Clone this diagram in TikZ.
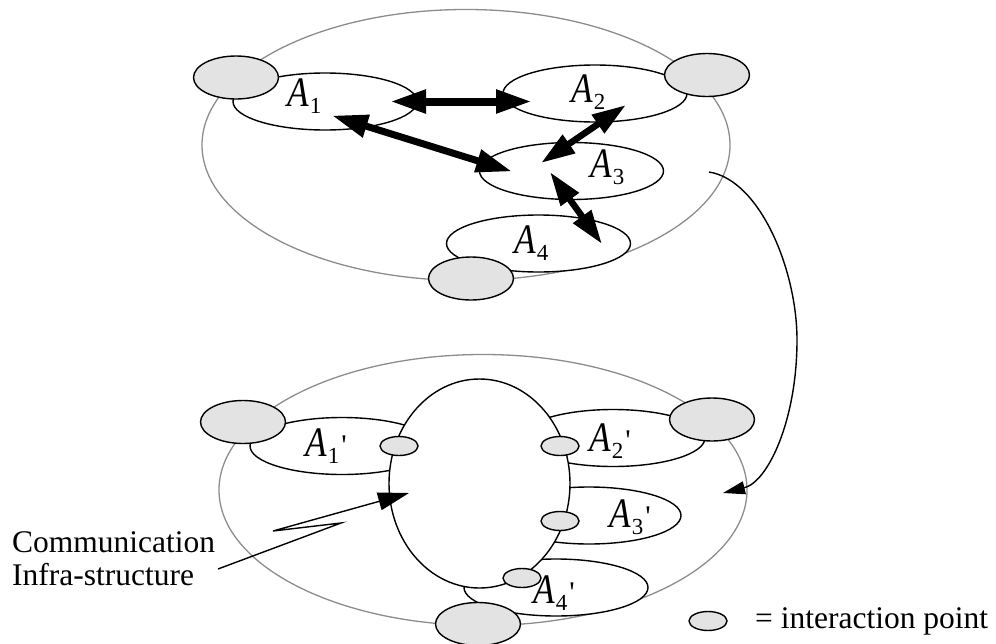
\documentclass[tikz,border=0pt]{standalone}
\usepackage{fontspec}
\usepackage{graphicx}
\setmainfont{Liberation Serif}
\newfontfamily\primefont{Liberation Serif}
\usetikzlibrary{shapes.geometric,arrows.meta}
\definecolor{ptfill}{HTML}{E3E3E3}
\definecolor{outer}{HTML}{8C8C8C}
\newcommand{\agentlabel}[2]{\scalebox{0.84}[1]{\fontsize{42}{42}\selectfont\itshape A}\kern1pt{\fontsize{23}{23}\selectfont\raisebox{-7pt}{#1}}\kern2pt{\primefont\fontsize{30}{30}\selectfont\raisebox{1pt}{#2}}}
\tikzset{
  x=1pt,y=-1pt,
  outerell/.style={ellipse,draw=outer,line width=1.3pt,minimum width=528pt,minimum height=271pt,inner sep=0pt},
  agentell/.style={ellipse,draw=black,fill=white,line width=1.4pt,minimum width=184pt,minimum height=57pt,inner sep=0pt},
  bigpt/.style={ellipse,draw=black,fill=ptfill,line width=1.4pt,minimum width=85pt,minimum height=43pt,inner sep=0pt},
  smallpt/.style={ellipse,draw=black,fill=ptfill,line width=1.4pt,minimum width=38pt,minimum height=19pt,inner sep=0pt},
  commell/.style={ellipse,draw=black,fill=white,line width=1.4pt,minimum width=181pt,minimum height=209pt,inner sep=0pt},
  lab/.style={anchor=base west,inner sep=0pt},
  txt/.style={anchor=base west,inner sep=0pt,font=\fontsize{31.5}{31.5}\selectfont},
  heavy/.style={line width=8pt,{Triangle[length=36pt,width=22pt]}-{Triangle[length=36pt,width=22pt]}},
  medium/.style={line width=6.5pt,{Triangle[length=34pt,width=21pt]}-{Triangle[length=34pt,width=21pt]}},
  thinarrow/.style={line width=1.4pt,-{Triangle[length=31pt,width=18pt]}},
  smallhead/.style={line width=1.4pt,-{Triangle[length=22pt,width=13pt]}}
}
\begin{document}
\begin{tikzpicture}
\useasboundingbox (0,0) rectangle (996,643);
% upper
\node[outerell] (outerT) at (466,145) {};
\node[agentell] (a1) at (325,101.5) {};
\node[agentell] (a2) at (595,93.5) {};
\node[agentell] (a3) at (571.5,171) {};
\node[agentell] (a4) at (538.5,243.5) {};
\node[bigpt] (p1) at (236,77.5) {};
\node[bigpt] (p2) at (707,75) {};
\node[bigpt] (p4) at (471,278.5) {};
\node[lab] (l1) at (287,106) {\agentlabel{1}{}};
\node[lab] (l2) at (571,102) {\agentlabel{2}{}};
\node[lab] (l3) at (590,177) {\agentlabel{3}{}};
\node[lab] (l4) at (514,253) {\agentlabel{4}{}};
\coordinate (t12a) at (390,101.5);
\coordinate (t12b) at (532,101.5);
\coordinate (t13a) at (332,115.5);
\coordinate (t13b) at (512,171.5);
\coordinate (t23a) at (626,105);
\coordinate (t23b) at (541,163);
\coordinate (t34a) at (550,172);
\coordinate (t34b) at (602,244);
\draw[heavy] (t12a) -- (t12b);
\draw[heavy,line width=7pt] (t13a) -- (t13b);
\draw[medium] (t23a) -- (t23b);
\draw[medium] (t34a) -- (t34b);
% lower
\node[outerell] (outerB) at (483,490) {};
\node[agentell] (b1) at (342,446) {};
\node[agentell] (b2) at (613,438) {};
\node[agentell] (b3) at (589,515.5) {};
\node[agentell] (b4) at (556,587.5) {};
\node[commell] (comm) at (479.5,483.5) {};
\node[bigpt] (q1) at (243,422) {};
\node[bigpt] (q2) at (712,419.5) {};
\node[bigpt] (q4) at (478,624) {};
\node[smallpt] (s1) at (399,446) {};
\node[smallpt] (s2) at (560,446) {};
\node[smallpt] (s3) at (560,521) {};
\node[smallpt] (s4) at (522,578) {};
\node[lab] (m1) at (305,456) {\agentlabel{1}{'}};
\node[lab] (m2) at (589,451) {\agentlabel{2}{'}};
\node[lab] (m3) at (609,527) {\agentlabel{3}{'}};
\node[lab] (m4) at (533,603) {\agentlabel{4}{'}};
% curved mapping arrow
\coordinate (mapstart) at (709,172);
\coordinate (mapmid) at (797,340);
\coordinate (mapend) at (723,493);
\draw[smallhead] (mapstart) .. controls (760,180) and (797,270) .. (mapmid)
   .. controls (797,420) and (768,482) .. (mapend);
% leader
\coordinate (leadstart) at (218,569);
\coordinate (leadb) at (341,523);
\coordinate (leadc) at (273,531);
\coordinate (leadtip) at (409,493);
\draw[thinarrow] (leadstart) -- (leadb) -- (leadc) -- (leadtip);
% text
\node[txt] (c1) at (12,552) {Communication};
\node[txt] (c2) at (12,585) {Infra-structure};
\node[smallpt] (legend) at (708,621) {};
\node[txt] (legtxt) at (755,628) {= interaction point};
\end{tikzpicture}
\end{document}
